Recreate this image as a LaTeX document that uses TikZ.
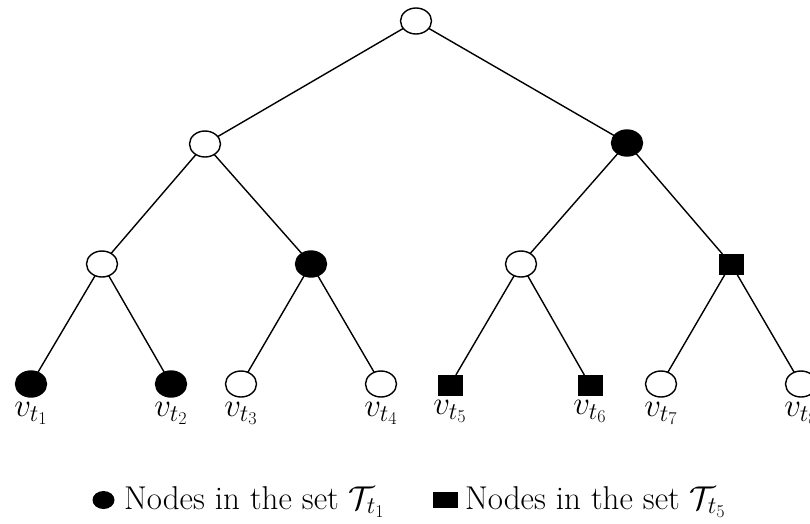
\RequirePackage{fix-cm}
\documentclass[tikz,border=0pt]{standalone}
\usetikzlibrary{shapes.geometric}
\DeclareMathSizes{33}{33}{24}{18}
\begin{document}
\begin{tikzpicture}[x=1pt,y=-1pt,
  every node/.style={inner sep=0pt,outer sep=0pt},
  wnode/.style={ellipse,draw,line width=1.4pt,fill=white,minimum width=31pt,minimum height=26pt},
  bnode/.style={ellipse,draw,line width=1.4pt,fill=black,minimum width=31pt,minimum height=26pt},
  snode/.style={rectangle,draw,line width=1pt,fill=black,minimum width=24pt,minimum height=20pt},
  edge/.style={line width=1.4pt},
  lab/.style={font=\fontsize{33}{38}\selectfont},
  leaflab/.style={label={[lab,label distance=5pt]below:#1}}
]
\useasboundingbox (0,0) rectangle (810,523);
% internal nodes
\node[wnode] (r) at (416,21) {};
\node[wnode] (a) at (205,144) {};
\node[bnode] (b) at (627,143) {};
\node[wnode] (aa) at (102,264) {};
\node[bnode] (ab) at (311,264) {};
\node[wnode] (ba) at (521,264) {};
\node[snode] (bb) at (731,264) {};
% leaves
\node[bnode,leaflab={$v_{t_1}$}] (l1) at (31,384) {};
\node[bnode,leaflab={$v_{t_2}$}] (l2) at (171,384) {};
\node[wnode,leaflab={$v_{t_3}$}] (l3) at (241,384) {};
\node[wnode,leaflab={$v_{t_4}$}] (l4) at (381,384) {};
\node[snode,leaflab={$v_{t_5}$}] (l5) at (450,385) {};
\node[snode,leaflab={$v_{t_6}$}] (l6) at (590,385) {};
\node[wnode,leaflab={$v_{t_7}$}] (l7) at (661,384) {};
\node[wnode,leaflab={$v_{t_8}$}] (l8) at (801,384) {};
% edges
\draw[edge] (r) -- (a);
\draw[edge] (r) -- (b);
\draw[edge] (a) -- (aa);
\draw[edge] (a) -- (ab);
\draw[edge] (b) -- (ba);
\draw[edge] (b) -- (bb);
\draw[edge] (aa) -- (l1);
\draw[edge] (aa) -- (l2);
\draw[edge] (ab) -- (l3);
\draw[edge] (ab) -- (l4);
\draw[edge] (ba) -- (l5);
\draw[edge] (ba) -- (l6);
\draw[edge] (bb) -- (l7);
\draw[edge] (bb) -- (l8);
% legend
\node[ellipse,fill=black,minimum width=22pt,minimum height=18pt] (m1) at (103.5,500) {};
\node[lab,anchor=base west] (t1) at (124,509) {Nodes in the set $\mathcal{T}_{t_1}$};
\node[rectangle,fill=black,minimum width=25pt,minimum height=16pt] (m2) at (445.5,500) {};
\node[lab,anchor=base west] (t2) at (465,509) {Nodes in the set $\mathcal{T}_{t_5}$};
\end{tikzpicture}
\end{document}
